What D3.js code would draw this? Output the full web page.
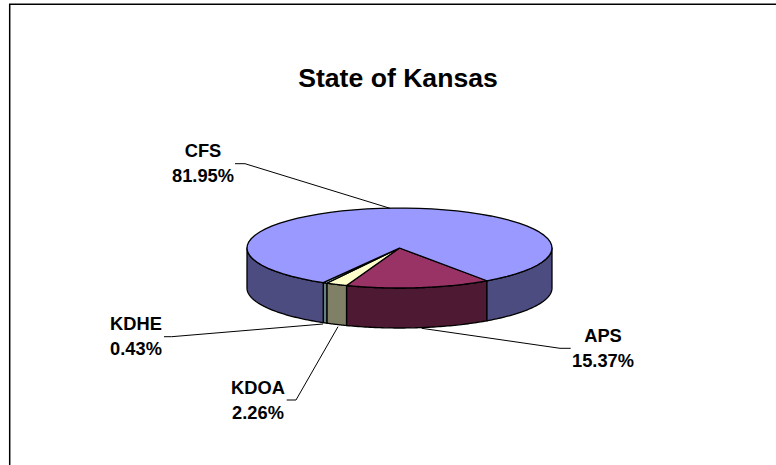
<!DOCTYPE html>
<html><head><meta charset="utf-8">
<script src="https://cdn.jsdelivr.net/npm/d3@7"></script>
<style>html,body{margin:0;background:#fff}svg{display:block}text{font-family:"Liberation Sans",Arial,sans-serif;font-weight:bold;fill:#000}</style>
</head><body><svg id="c" width="776" height="465"></svg>
<script>
const categories=["APS","KDOA","KDHE","CFS"];
const values=[15.37,2.26,0.43,81.95];
const topColors=["#993366","#FFFFCC","#CCFFFF","#9999FF"];
const sideColors=["#4D1933","#808066","#668080","#4C4C80"];
const title="State of Kansas";
const svg=d3.select("#c");
const cx=399.5,cy=248,rx=152.5,ry=40,depth=40;
const start=145*Math.PI/180;
const pie=d3.pie().sort(null).startAngle(start).endAngle(start+2*Math.PI);
const arcs=pie(values);
const pt=(a,dy=0)=>[cx+rx*Math.sin(a),cy-ry*Math.cos(a)+dy];
const samples=(a0,a1)=>d3.range(0,61).map(i=>a0+(a1-a0)*i/60);
const line=d3.line();
svg.append("path").attr("d","M9.7,465V4.2H776").attr("fill","none").attr("stroke","#000").attr("stroke-width",1.5);
const lo=Math.PI/2,hi=3*Math.PI/2;
arcs.forEach((d,i)=>{
  [[d.startAngle,d.endAngle],[d.startAngle-2*Math.PI,d.endAngle-2*Math.PI]].forEach(([s,e])=>{
    const a0=Math.max(s,lo),a1=Math.min(e,hi);
    if(a1<=a0)return;
    const s1=samples(a0,a1);
    const p=s1.map(a=>pt(a)).concat(s1.slice().reverse().map(a=>pt(a,depth)));
    svg.append("path").attr("d",line(p)+"Z").attr("fill",sideColors[i]).attr("stroke","#000").attr("stroke-width",1.3).attr("stroke-linejoin","round");
  });
});
arcs.forEach((d,i)=>{
  const p=[[cx,cy]].concat(samples(d.startAngle,d.endAngle).map(a=>pt(a)));
  svg.append("path").attr("d",line(p)+"Z").attr("fill",topColors[i]).attr("stroke","#000").attr("stroke-width",1.3).attr("stroke-linejoin","round");
});
svg.append("text").attr("x",398).attr("y",87).attr("text-anchor","middle").attr("font-size",26.6).text(title);
const labelPos=[[603,342],[258,394],[136,330],[203,157]];
labelPos.forEach(([x,y],i)=>{
  const t=svg.append("text").attr("x",x).attr("y",y).attr("text-anchor","middle").attr("font-size",18.3);
  t.append("tspan").attr("x",x).text(categories[i]);
  t.append("tspan").attr("x",x).attr("dy",25.3).text(values[i].toFixed(2)+"%");
});
const leaders=[
 [[421.7,328.3],[560,348.3],[570.7,348.3]],
 [[338,326.7],[296,400],[286.7,400]],
 [[323,324],[171.7,336.7],[164,336.7]],
 [[390,208.3],[245,163.7],[235,163.7]]];
leaders.forEach(l=>svg.append("path").attr("d",line(l)).attr("fill","none").attr("stroke","#000").attr("stroke-width",1));
</script></body></html>
